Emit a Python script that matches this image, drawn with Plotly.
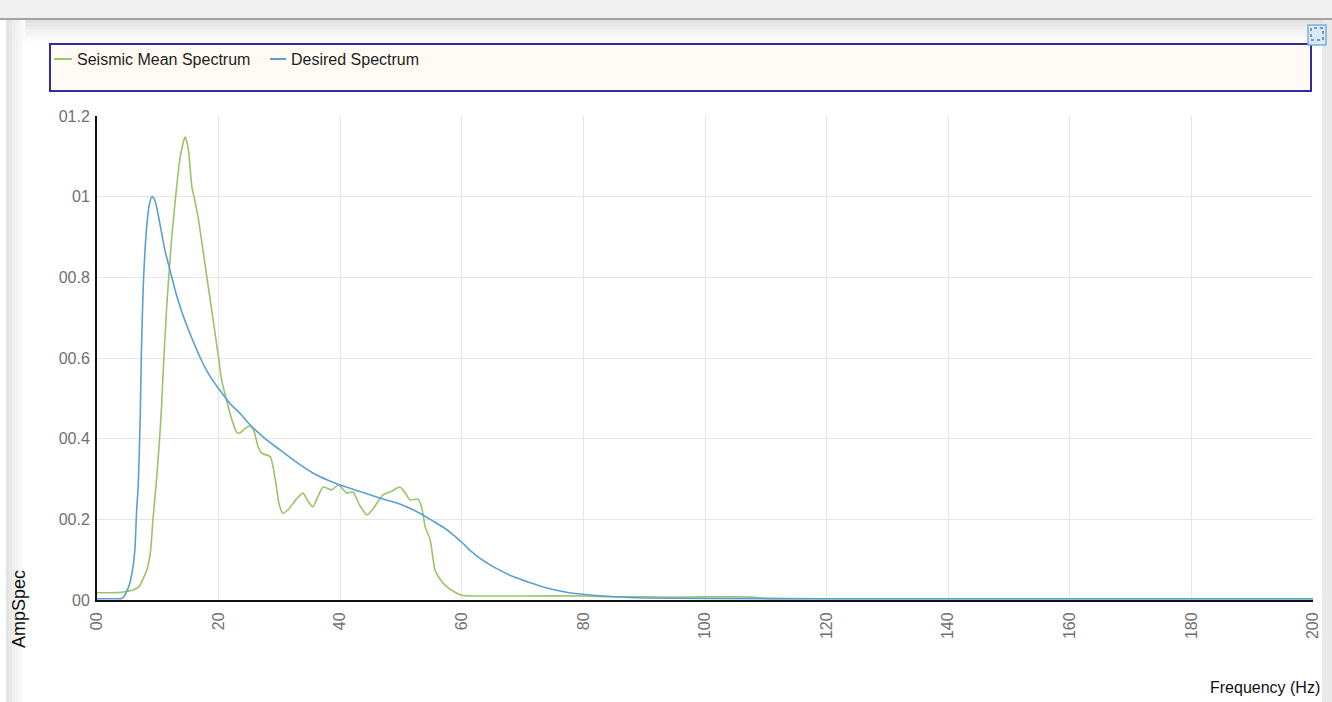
import plotly.graph_objects as go

# ---------------- data ----------------
seismic_freq = [0, 2, 4, 5, 6, 7, 7.5, 8.2, 8.8, 9.2, 9.8, 10.5, 10.9, 11.5, 12.3,
                13.1, 13.7, 14.5, 15.0, 15.6, 16.1, 16.7, 17.5, 18.3, 19.1, 20.0,
                20.5, 21.3, 22.2, 23.0, 23.5, 24.3, 25.2, 25.8, 26.5, 27.1, 28.5,
                29.3, 30.0, 30.6, 31.5, 32.8, 33.9, 34.7, 35.5, 36.3, 37.2, 38.6,
                39.7, 41.1, 42.1, 43.2, 44.4, 45.5, 47.0, 48.5, 49.8, 50.7, 51.5,
                52.8, 53.4, 54.0, 54.8, 55.6, 56.5, 57.5, 58.8, 60.0, 62, 70, 80,
                85, 90, 95, 100, 105, 108, 110, 120, 140, 160, 180, 200]
seismic_amp = [0.018, 0.018, 0.019, 0.022, 0.025, 0.035, 0.05, 0.075, 0.12, 0.2,
               0.3, 0.446, 0.57, 0.736, 0.90, 1.025, 1.10, 1.148, 1.12, 1.025,
               0.99, 0.942, 0.86, 0.777, 0.694, 0.60, 0.545, 0.496, 0.446, 0.415,
               0.414, 0.425, 0.431, 0.42, 0.38, 0.364, 0.355, 0.30, 0.235, 0.215,
               0.225, 0.25, 0.265, 0.245, 0.231, 0.255, 0.28, 0.273, 0.285, 0.265,
               0.268, 0.235, 0.211, 0.228, 0.26, 0.27, 0.28, 0.265, 0.248, 0.25,
               0.23, 0.18, 0.149, 0.074, 0.05, 0.033, 0.02, 0.012, 0.01, 0.01,
               0.01, 0.008, 0.008, 0.007, 0.008, 0.008, 0.007, 0.004, 0.003,
               0.003, 0.003, 0.003, 0.003]

desired_freq = [0, 2, 4, 4.5, 5.0, 5.4, 5.9, 6.25, 6.5, 6.8, 7.1, 7.3, 7.6, 7.9,
                8.2, 8.6, 9.0, 9.4, 9.8, 10.5, 11.2, 12.0, 13.0, 14.0, 15.3, 16.5,
                17.0, 18.0, 19.0, 20.2, 22.0, 23.5, 25.2, 27.5, 30.1, 32.5, 35.5,
                38.0, 40.0, 43.0, 46.5, 50.0, 53.1, 55.0, 56.9, 58.5, 60.2, 61.5,
                63.0, 65.0, 66.5, 68.4, 71.0, 74.0, 77.0, 79.4, 82.0, 85.0, 90.0,
                100, 120, 160, 200]
desired_amp = [0.003, 0.003, 0.004, 0.01, 0.025, 0.042, 0.08, 0.13, 0.215, 0.29,
               0.45, 0.612, 0.777, 0.868, 0.93, 0.98, 1.0, 0.995, 0.975, 0.92,
               0.865, 0.818, 0.76, 0.712, 0.66, 0.617, 0.60, 0.57, 0.545, 0.52,
               0.485, 0.463, 0.434, 0.402, 0.372, 0.345, 0.315, 0.297, 0.285,
               0.27, 0.253, 0.237, 0.215, 0.198, 0.181, 0.163, 0.14, 0.121, 0.103,
               0.084, 0.072, 0.058, 0.044, 0.03, 0.02, 0.015, 0.011, 0.008, 0.005,
               0.004, 0.003, 0.003, 0.003]

series_names = ["Seismic Mean Spectrum", "Desired Spectrum"]
x_tickvals = [0, 20, 40, 60, 80, 100, 120, 140, 160, 180, 200]
x_ticktext = ["00", "20", "40", "60", "80", "100", "120", "140", "160", "180", "200"]
y_tickvals = [0, 0.2, 0.4, 0.6, 0.8, 1.0, 1.2]
y_ticktext = ["00", "00.2", "00.4", "00.6", "00.8", "01", "01.2"]
x_title = "Frequency (Hz)"
y_title = "AmpSpec"

# ---------------- style ----------------
GREEN = "#9ac46a"
BLUE = "#5aa0d4"
FONT = "Liberation Sans"
W, H = 1332, 702
L, R, T, B = 97, 1313, 116, 600  # plot area in pixels


def px(x):
    return (x - L) / (R - L)


def py(y):
    return (B - y) / (B - T)


fig = go.Figure()
fig.add_trace(go.Scatter(x=seismic_freq, y=seismic_amp, name=series_names[0],
                         mode="lines", line=dict(color=GREEN, width=1.6,
                                                 shape="spline", smoothing=0.6)))
fig.add_trace(go.Scatter(x=desired_freq, y=desired_amp, name=series_names[1],
                         mode="lines", line=dict(color=BLUE, width=1.6,
                                                 shape="spline", smoothing=0.6)))

shapes = []


def rect(x0, y0, x1, y1, fill, line=None, lw=0, layer="below", dash=None):
    d = dict(type="rect", xref="paper", yref="paper",
             x0=px(x0), x1=px(x1), y0=py(y1), y1=py(y0),
             fillcolor=fill, layer=layer,
             line=dict(width=lw, color=line or fill))
    if dash:
        d["line"]["dash"] = dash
    shapes.append(d)


# window chrome: top band, separator line, soft gradient
rect(0, 0, W, 18, "#f1f1f1")
rect(0, 18, W, 20, "#a3a3a3")
grad = ["#e2e2e2", "#e8e8e8", "#eeeeee", "#f3f3f3", "#f7f7f7", "#fbfbfb"]
for i, c in enumerate(grad):
    rect(6, 20 + i * 3.5, 1322, 20 + (i + 1) * 3.5, c)
# left soft strip
lgrad = ["#e3e3e3", "#e8e8e8", "#eeeeee", "#f3f3f3", "#f8f8f8", "#fcfcfc"]
for i, c in enumerate(lgrad):
    rect(6 + i * 3.2, 20, 6 + (i + 1) * 3.2, H, c)
# right strip
rect(1322, 20, W, H, "#e9e9e9")

# legend box
rect(50, 44, 1311, 91, "#fffbf4", line="#2e2e9e", lw=2)
# legend line samples
shapes.append(dict(type="line", xref="paper", yref="paper", x0=px(54), x1=px(72),
                   y0=py(59), y1=py(59), line=dict(color=GREEN, width=2)))
shapes.append(dict(type="line", xref="paper", yref="paper", x0=px(270), x1=px(286),
                   y0=py(59), y1=py(59), line=dict(color=BLUE, width=2)))
# little button top-right
rect(1308, 25, 1326, 45, "#d6e9fb", line="#79b0e6", lw=1.5, layer="above")
rect(1311, 28, 1323, 40, "rgba(0,0,0,0)", line="#444444", lw=1, layer="above", dash="dot")

annotations = [
    dict(text=series_names[0], xref="paper", yref="paper", x=px(75), y=py(59),
         xanchor="left", yanchor="middle", showarrow=False,
         font=dict(family=FONT, size=16, color="#1e1e1e")),
    dict(text=series_names[1], xref="paper", yref="paper", x=px(289), y=py(59),
         xanchor="left", yanchor="middle", showarrow=False,
         font=dict(family=FONT, size=16, color="#1e1e1e")),
    dict(text=x_title, xref="paper", yref="paper", x=px(1322), y=py(687),
         xanchor="right", yanchor="middle", showarrow=False,
         font=dict(family=FONT, size=16, color="#111111")),
    dict(text=y_title, xref="paper", yref="paper", x=px(19), y=py(609),
         xanchor="center", yanchor="middle", showarrow=False, textangle=-90,
         font=dict(family=FONT, size=18, color="#111111")),
]

fig.update_layout(
    width=W, height=H,
    margin=dict(l=L, r=W - R, t=T, b=H - B, pad=0),
    paper_bgcolor="white", plot_bgcolor="white",
    showlegend=False,
    shapes=shapes, annotations=annotations,
    xaxis=dict(range=[0, 200], tickmode="array", tickvals=x_tickvals,
               ticktext=x_ticktext, tickangle=-90, showgrid=True,
               gridcolor="#e6e6e6", gridwidth=1, zeroline=False,
               showline=True, linecolor="#111111", linewidth=2, ticks="",
               tickfont=dict(family=FONT, size=16, color="#707070"),
               ticklabelstandoff=4),
    yaxis=dict(range=[0, 1.2], tickmode="array", tickvals=y_tickvals,
               ticktext=y_ticktext, showgrid=True, gridcolor="#e6e6e6",
               gridwidth=1, zeroline=False, showline=True,
               linecolor="#111111", linewidth=2, ticks="",
               tickfont=dict(family=FONT, size=16, color="#707070"),
               ticklabelstandoff=2),
)

fig.write_html(
    "out.html",
    config={"displayModeBar": False},
    post_script="document.body.style.margin='0';document.body.style.overflow='hidden';",
)
